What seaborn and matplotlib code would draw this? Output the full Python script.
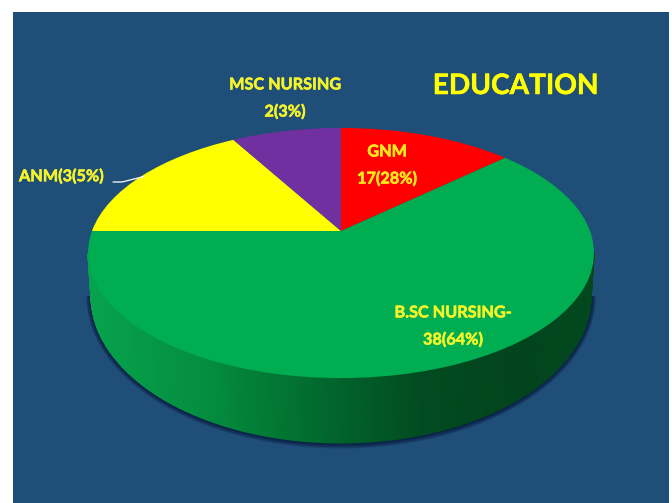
import matplotlib
matplotlib.use("Agg")
import matplotlib.patheffects as path_effects
import matplotlib.pyplot as plt
import matplotlib.transforms as mtransforms
import numpy as np
import seaborn as sns
from matplotlib.colors import LinearSegmentedColormap
from matplotlib.patches import Rectangle

# slice sizes as drawn in the picture (they do not follow the printed percentages)
categories = ["GNM", "B.SC NURSING", "ANM", "MSC NURSING"]
drawn_shares = [13.2, 61.8, 16.7, 8.3]
slice_labels = ["GNM\n17(28%)", "B.SC NURSING-\n38(64%)", "ANM(3(5%)", "MSC NURSING\n2(3%)"]
chart_title = "EDUCATION"

sns.set_style("white")
plt.rcParams["font.family"] = ["Lato", "DejaVu Sans"]

slice_colors = sns.color_palette(["#FF0000", "#00AD50", "#FFFF00", "#7030A0"])
panel_color = "#1F4E79"


class TiltTransform(mtransforms.Transform):
    """Projects the unit circle of the pie onto the tilted disc, in pixels."""

    input_dims = 2
    output_dims = 2
    is_separable = False
    has_inverse = False

    def transform_non_affine(self, values):
        values = np.asarray(values, dtype=float)
        w = 1 + 0.176 * values[:, 1]
        return np.column_stack((341 + 249 * values[:, 0] / w, 231 - 121.2 * values[:, 1] / w))


fig = plt.figure(figsize=(6.72, 5.03), dpi=100, facecolor="white")
ax = fig.add_axes([0, 0, 1, 1])
ax.add_patch(Rectangle((13, 12), 656, 491, facecolor=panel_color, edgecolor="none", zorder=0))

# soft shadow under the disc
t = np.linspace(0, np.pi, 200)
for g in range(7, 0, -1):
    ax.fill(341 + (250 + g * 0.7) * np.cos(t), 296 + (147 + g * 0.8) * np.sin(t),
            color="#050F30", alpha=0.16, lw=0, zorder=1)

# side wall with its left to right gradient
wall_cmap = LinearSegmentedColormap.from_list(
    "wall",
    [(0.0, "#07A24D"), (0.22, "#048F40"), (0.34, "#027C36"), (0.5, "#01622B"),
     (0.66, "#024B21"), (0.85, "#02441D"), (1.0, "#02491F")],
)
top_x, top_y = 341 + 253 * np.cos(t), 253 + 125 * np.sin(t)
low_x, low_y = 341 + 250 * np.cos(t), 296 + 147 * np.sin(t)
ax.pcolormesh(np.vstack((top_x, low_x)), np.vstack((top_y, low_y)), np.vstack((top_x, low_x)),
              cmap=wall_cmap, vmin=92, vmax=594, shading="gouraud", zorder=2)

wedges, _ = ax.pie(drawn_shares, colors=slice_colors, startangle=90, counterclock=False, radius=1)
tilt = TiltTransform()
for wedge in wedges:
    wedge.set_transform(tilt + ax.transData)
    wedge.set_edgecolor("none")
    wedge.set_zorder(3)

ax.set_aspect("auto")
ax.set_xlim(0, 672)
ax.set_ylim(503, 0)
ax.axis("off")

text_style = dict(color="#F4F42A", fontweight="bold", fontsize=11.7, ha="center", va="center", zorder=5,
                  linespacing=2.1)
ax.text(387, 166, slice_labels[0], **{**text_style, "color": "#FFE81A"})
ax.text(453, 327, slice_labels[1], **text_style)
ax.text(19, 177, slice_labels[2], **{**text_style, "ha": "left"})
ax.text(285, 99, slice_labels[3], **text_style)
ax.text(515.5, 86, chart_title, color="#FFFF00", fontweight="bold", fontsize=20.2,
        ha="center", va="center", zorder=5)
for label in ax.texts:
    label.set_path_effects([path_effects.withStroke(linewidth=0.4, foreground=label.get_color())])
ax.plot([113, 122, 144], [182, 182, 176.5], color="white", lw=0.9, zorder=4)

plt.savefig("out.png", dpi=100)
plt.close()
